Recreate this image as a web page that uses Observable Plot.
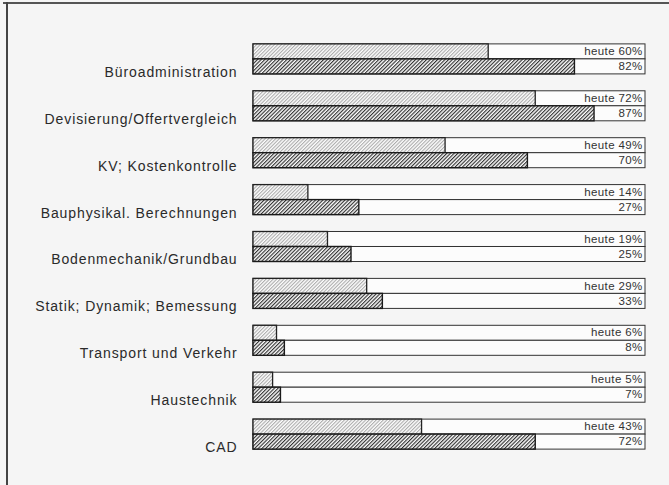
<!DOCTYPE html>
<html>
<head>
<meta charset="utf-8">
<script src="https://cdn.jsdelivr.net/npm/d3@7"></script>
<script src="https://cdn.jsdelivr.net/npm/@observablehq/plot@0.6"></script>
<style>
  html, body { margin: 0; padding: 0; background: #f5f5f5; }
  #wrap { position: relative; width: 669px; height: 485px; overflow: hidden; }
  #wrap svg { position: absolute; left: 0; top: 0; }
  .bt { position: absolute; left: 3px; top: 2px; width: 670px; height: 0; border-top: 2px solid #555; }
  .bl { position: absolute; left: 6px; top: 2px; width: 0; height: 490px; border-left: 2px solid #444; }
</style>
</head>
<body>
<div id="wrap"><div class="bt"></div><div class="bl"></div></div>
<script>
const categories = [
  "Büroadministration",
  "Devisierung/Offertvergleich",
  "KV; Kostenkontrolle",
  "Bauphysikal. Berechnungen",
  "Bodenmechanik/Grundbau",
  "Statik; Dynamik; Bemessung",
  "Transport und Verkehr",
  "Haustechnik",
  "CAD"
];
const heute = [60, 72, 49, 14, 19, 29, 6, 5, 43];
const kuenftig = [82, 87, 70, 27, 25, 33, 8, 7, 72];

const rowsHeute = categories.map((c, i) => ({cat: c, value: heute[i]}));
const rowsKuenftig = categories.map((c, i) => ({cat: c, value: kuenftig[i]}));

function patternDefs() {
  const defs = d3.create("svg:defs");
  const mk = (id, color, sw, w) => {
    const p = defs.append("pattern")
      .attr("id", id)
      .attr("patternUnits", "userSpaceOnUse")
      .attr("width", w).attr("height", 10)
      .attr("patternTransform", "rotate(45)");
    p.append("rect").attr("width", w).attr("height", 10).attr("fill", "#fdfdfd");
    p.append("line").attr("x1", 0.6).attr("y1", 0).attr("x2", 0.6).attr("y2", 10)
      .attr("stroke", color).attr("stroke-width", sw);
  };
  mk("hatchLight", "#9a9a9a", 0.9, 2.5);
  mk("hatchDark", "#1e1e1e", 1.05, 2.6);
  return defs.node();
}

const font = "'Liberation Sans', Arial, Helvetica, sans-serif";

const chart = Plot.plot({
  width: 669,
  height: 485,
  marginLeft: 253,
  marginRight: 24,
  marginTop: 27,
  marginBottom: 19,
  style: {background: "transparent", fontFamily: font, color: "#2a2a2a"},
  x: {domain: [0, 100], axis: null},
  y: {domain: categories, paddingInner: 0.36, paddingOuter: 0.36, round: false, axis: null},
  marks: [
    patternDefs,
    // tracks
    Plot.barX(categories, {y: d => d, x1: 0, x2: 100, insetBottom: 15, fill: "#fcfcfc", stroke: "#333", strokeWidth: 1}),
    Plot.barX(categories, {y: d => d, x1: 0, x2: 100, insetTop: 15, fill: "#fcfcfc", stroke: "#333", strokeWidth: 1}),
    // bars
    Plot.barX(rowsHeute, {y: "cat", x1: 0, x2: "value", insetBottom: 15, fill: "url(#hatchLight)", stroke: "#222", strokeWidth: 1.3}),
    Plot.barX(rowsKuenftig, {y: "cat", x1: 0, x2: "value", insetTop: 15, fill: "url(#hatchDark)", stroke: "#1a1a1a", strokeWidth: 1.4}),
    // value labels
    Plot.text(rowsHeute, {y: "cat", x: 100, text: d => `heute ${d.value}%`, textAnchor: "end", dx: -3, dy: -8, fontSize: 11.5, fill: "#333"}),
    Plot.text(rowsKuenftig, {y: "cat", x: 100, text: d => `${d.value}%`, textAnchor: "end", dx: -3, dy: 7, fontSize: 11.5, fill: "#333"}),
    // category labels
    Plot.text(categories, {y: d => d, x: 0, text: d => d, textAnchor: "end", dx: -16, dy: 13, fontSize: 14, fill: "#2a2a2a"})
  ]
});
chart.querySelectorAll("text").forEach(t => {
  const fs = parseFloat(t.closest("g").getAttribute("font-size") || "0");
  if (fs === 14) t.closest("g").setAttribute("letter-spacing", "0.9px");
  if (fs === 11.5) t.closest("g").setAttribute("letter-spacing", "0.35px");
});
document.getElementById("wrap").appendChild(chart);
</script>
</body>
</html>
